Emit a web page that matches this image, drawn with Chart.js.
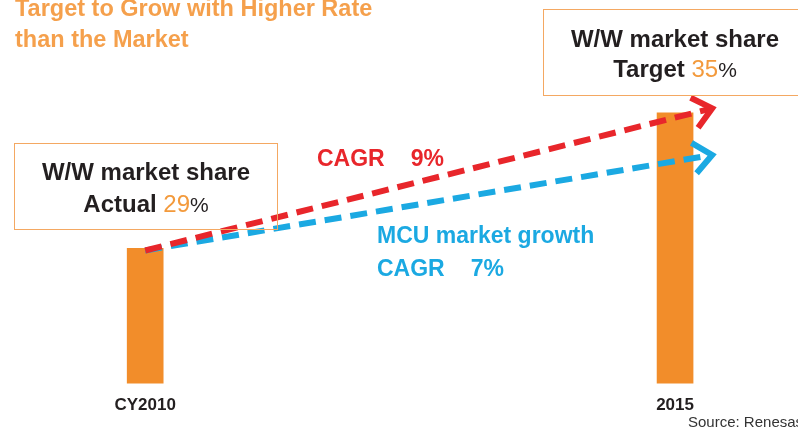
<!DOCTYPE html>
<html>
<head>
<meta charset="utf-8">
<script src="https://cdn.jsdelivr.net/npm/chart.js@4.4.1/dist/chart.umd.min.js"></script>
<style>
  body { margin: 0; background: #fff; }
  #wrap { position: relative; width: 798px; height: 440px; overflow: hidden;
          font-family: "Liberation Sans", Arial, sans-serif; }
  canvas { position: absolute; left: 0; top: 0; }
  .note { position: absolute; white-space: nowrap; font-weight: bold; }
  .box { position: absolute; border: 1.5px solid #f4a862; box-sizing: border-box; }
  .num { color: #f39a3c; font-weight: normal; }
  .pct { font-weight: normal; font-size: 21px; }
</style>
</head>
<body>
<div id="wrap">
  <canvas id="chart" width="798" height="440"></canvas>

  <div class="note" style="left:15px; top:-6.6px; font-size:23.5px; line-height:31px; color:#f5a04c;">
    Target to Grow with Higher Rate<br>than the Market
  </div>

  <div class="box" style="left:14px; top:143px; width:264px; height:87px;"></div>
  <div class="note" style="left:14px; top:155.7px; width:264px; text-align:center; font-size:24px; line-height:32px; color:#231f20;">
    W/W market share<br>Actual <span class="num">29</span><span class="pct">%</span>
  </div>

  <div class="box" style="left:543px; top:9px; width:300px; height:87px;"></div>
  <div class="note" style="left:543px; top:23.7px; width:264px; text-align:center; font-size:24px; line-height:30px; color:#231f20;">
    W/W market share<br>Target <span class="num">35</span><span class="pct">%</span>
  </div>

  <div class="note" style="left:317px; top:144px; font-size:23px; line-height:28px; color:#e8262b;">
    CAGR<span style="margin-left:26px">9%</span>
  </div>

  <div class="note" style="left:377px; top:218.5px; font-size:23px; line-height:33px; color:#1ba9e2;">
    MCU market growth<br>CAGR<span style="margin-left:26px">7%</span>
  </div>

  <div class="note" style="left:688px; top:412.8px; font-size:15px; line-height:18px; font-weight:normal; color:#333;">
    Source: Renesas
  </div>
</div>

<script>
// bars: worldwide market share
const years = [2010, 2015];
const yearLabels = ['CY2010', '2015'];
const shareValues = [29, 35];

// growth arrows (start at the 2010 bar, end just past the 2015 bar)
const growthYears = [2010, 2015.35];
const targetGrowth = [28.9, 35.2];   // CAGR 9%
const marketGrowth = [28.9, 33.13];  // MCU market, CAGR 7%

const FONT = '"Liberation Sans", Arial, sans-serif';

function toPoints(xs, ys) {
  return xs.map((x, i) => ({ x: x, y: ys[i] }));
}

// chevron at the end of each dashed line
const arrowHeads = {
  id: 'arrowHeads',
  afterDatasetsDraw(chart) {
    const ctx = chart.ctx;
    chart.data.datasets.forEach((ds, i) => {
      if (ds.type !== 'line') return;
      const pts = chart.getDatasetMeta(i).data;
      const a = pts[pts.length - 2], b = pts[pts.length - 1];
      const ang = Math.atan2(b.y - a.y, b.x - a.x);
      const len = 24, spread = 0.7;
      ctx.save();
      ctx.strokeStyle = ds.borderColor;
      ctx.lineWidth = 6;
      ctx.lineJoin = 'miter';
      ctx.setLineDash([]);
      ctx.beginPath();
      ctx.moveTo(b.x - len * Math.cos(ang - spread), b.y - len * Math.sin(ang - spread));
      ctx.lineTo(b.x, b.y);
      ctx.lineTo(b.x - len * Math.cos(ang + spread), b.y - len * Math.sin(ang + spread));
      ctx.stroke();
      ctx.restore();
    });
  }
};

var ctx = document.getElementById('chart').getContext('2d');
var chart = new Chart(ctx, {
  data: {
    datasets: [
      {
        type: 'line',
        label: 'Target CAGR 9%',
        data: toPoints(growthYears, targetGrowth),
        borderColor: '#e8262b',
        borderWidth: 6,
        borderDash: [17, 9],
        pointRadius: 0,
        order: 0
      },
      {
        type: 'line',
        label: 'MCU market CAGR 7%',
        data: toPoints(growthYears, marketGrowth),
        borderColor: '#1ba9e2',
        borderWidth: 6,
        borderDash: [17, 9],
        pointRadius: 0,
        order: 1
      },
      {
        type: 'bar',
        label: 'W/W market share',
        data: toPoints(years, shareValues),
        backgroundColor: '#f28d2a',
        barThickness: 36,
        order: 2
      }
    ]
  },
  options: {
    responsive: false,
    animation: false,
    layout: { padding: { left: 0, right: 0, top: 0, bottom: 12 } },
    plugins: { legend: { display: false }, tooltip: { enabled: false } },
    scales: {
      x: {
        type: 'linear',
        offset: false,
        min: 2008.63,
        max: 2016.16,
        grid: { display: false, drawTicks: false, offset: false },
        border: { display: false },
        afterBuildTicks: function (axis) {
          axis.ticks = years.map(v => ({ value: v }));
        },
        ticks: {
          autoSkip: false,
          maxRotation: 0,
          padding: 12,
          color: '#231f20',
          font: { family: FONT, size: 17, weight: 'bold' },
          callback: function (v) {
            const i = years.indexOf(v);
            return i >= 0 ? yearLabels[i] : '';
          }
        }
      },
      y: { display: false, min: 23, max: 40 }
    }
  },
  plugins: [arrowHeads]
});
</script>
</body>
</html>
